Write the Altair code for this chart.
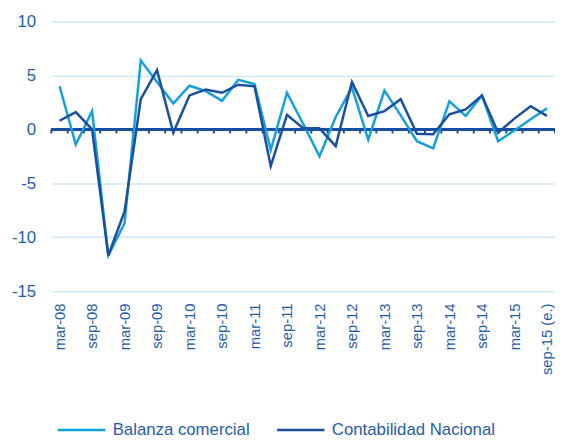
import altair as alt
import pandas as pd

tick_labels = ["mar-08", "sep-08", "mar-09", "sep-09", "mar-10", "sep-10", "mar-11",
               "sep-11", "mar-12", "sep-12", "mar-13", "sep-13", "mar-14", "sep-14",
               "mar-15", "sep-15 (e.)"]

balanza = [4.0, -1.4, 1.7, -11.7, -8.7, 6.4, 4.4, 2.4, 4.05, 3.55, 2.65, 4.6, 4.2, -1.9,
           3.4, 0.5, -2.5, 1.15, 3.9, -0.95, 3.6, 1.3, -1.1, -1.75, 2.6, 1.25, 3.15, -1.1,
           -0.1, 0.95, 1.95]
contabilidad = [0.8, 1.6, 0.0, -11.7, -7.6, 2.8, 5.5, -0.3, 3.15, 3.7, 3.4, 4.15, 4.0, -3.4,
                1.35, 0.1, 0.1, -1.55, 4.4, 1.25, 1.7, 2.8, -0.4, -0.45, 1.4, 1.85, 3.15, -0.3,
                1.0, 2.15, 1.25]

series_names = ["Balanza comercial", "Contabilidad Nacional"]
colors = ["#12A0DE", "#1A4E9E"]
label_color = "#1F5CAE"

n = len(balanza)
rows = []
for i in range(n):
    rows.append({"pos": i + 0.5, "value": balanza[i], "serie": series_names[0], "ord": 0})
    rows.append({"pos": i + 0.5, "value": contabilidad[i], "serie": series_names[1], "ord": 1})
df = pd.DataFrame(rows)

ticks_df = pd.DataFrame({"pos": list(range(n + 1))})

label_array = "[" + ",".join("'" + t + "'" for t in tick_labels) + "]"
xscale = alt.Scale(domain=[0, n], nice=False, zero=False)
yscale = alt.Scale(domain=[-15, 10], nice=False)

x_axis = alt.Axis(
    values=[2 * k + 0.5 for k in range(len(tick_labels))],
    labelExpr=label_array + "[floor(datum.value / 2)]",
    labelAngle=-90, labelFontSize=15, labelColor=label_color, labelFont="Liberation Sans",
    labelPadding=12, ticks=False, domain=False, grid=False, title=None, labelOverlap=False,
)
y_axis = alt.Axis(
    values=[-15, -10, -5, 0, 5, 10],
    labelExpr="datum.value < 0 ? '-' + abs(datum.value) : '' + datum.value",
    labelFontSize=17, labelColor=label_color,
    labelFont="Liberation Sans", labelPadding=16, ticks=False, domain=False,
    grid=True, gridColor="#CBE7F6", gridWidth=1.5, title=None, labelOverlap=False,
)

lines = alt.Chart(df).mark_line(strokeWidth=2.5).encode(
    x=alt.X("pos:Q", scale=xscale, axis=x_axis),
    y=alt.Y("value:Q", scale=yscale, axis=y_axis),
    color=alt.Color(
        "serie:N",
        scale=alt.Scale(domain=series_names, range=colors),
        legend=alt.Legend(
            title=None, orient="none", legendX=5, legendY=388, direction="horizontal",
            symbolType="stroke", symbolSize=2304, symbolStrokeWidth=2.5,
            labelFontSize=17, labelColor=label_color, labelFont="Liberation Sans",
            columnPadding=22, labelOffset=6, padding=0, labelLimit=400,
        ),
    ),
    order=alt.Order("ord:Q"),
)

zero_line = alt.Chart(ticks_df).mark_rule(color=colors[1], strokeWidth=2.5).encode(
    y=alt.datum(0, scale=yscale, axis=y_axis),
)

tick_marks = alt.Chart(ticks_df).mark_rule(color=colors[1], strokeWidth=2).encode(
    x=alt.X("pos:Q", scale=xscale, axis=x_axis),
    y=alt.datum(0, axis=y_axis),
    y2=alt.datum(-0.38),
)

chart = alt.layer(zero_line, tick_marks, lines).properties(
    width=510, height=273,
    padding={"left": 44, "top": 11, "right": 0, "bottom": 146},
    autosize=alt.AutoSizeParams(type="none"),
).configure_view(stroke=None)

chart.save("out.html", embed_options={"renderer": "svg", "actions": False})
